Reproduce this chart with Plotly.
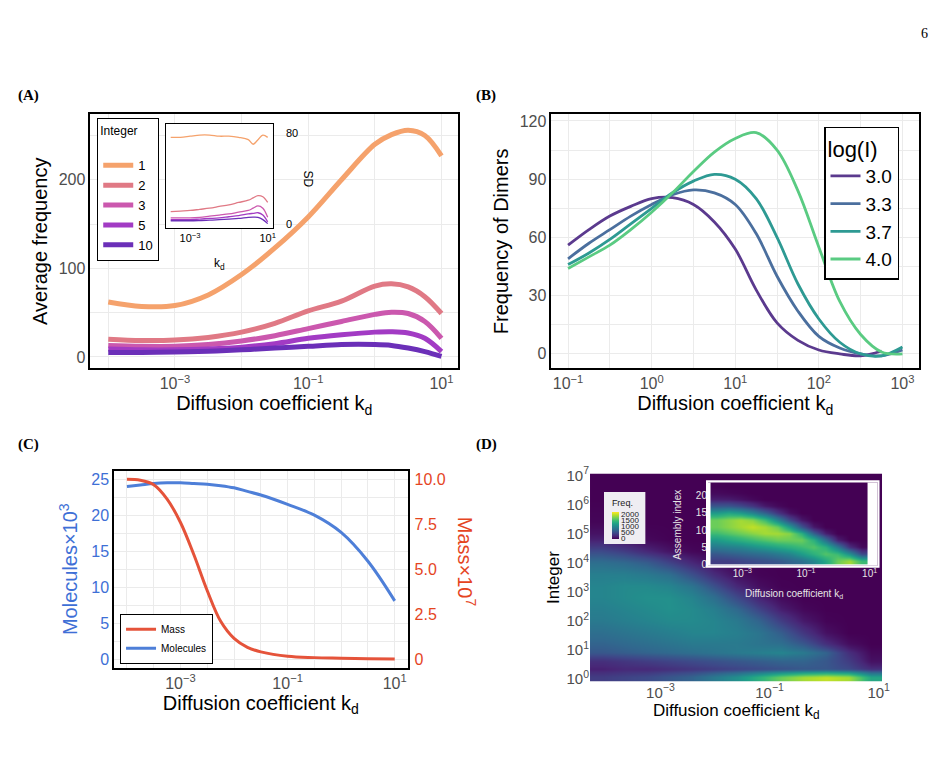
import numpy as np
import plotly.graph_objects as go

W, H = 941, 765

# ---------- panel A: average frequency per integer ----------
A_LOGKD = [-4, -3.5, -3, -2.5, -2, -1.5, -1, -0.5, 0, 0.25, 0.5, 0.75, 1]
A_INT1 = [62, 57, 58, 70, 93, 123, 158, 200, 240, 251, 256, 250, 227]
A_INT2 = [20, 18.5, 19, 22, 28, 38, 52, 63, 80, 82.5, 79, 68, 49]
A_INT3 = [13, 12, 12, 14, 18, 24, 32, 40, 48, 50.5, 49, 40, 21]
A_INT5 = [9, 8, 8, 9, 11, 15, 21, 25, 28, 28.5, 27, 21, 6]
A_INT10 = [5, 5, 5.5, 6.5, 8, 10, 12, 14, 14, 13, 10, 6, 0.5]

# inset: SD
SD_INT1 = [76, 76, 77, 78, 78, 77, 77, 76, 74, 70, 74, 78, 76]
SD_INT2 = [11, 11.5, 12, 13, 14, 15.5, 17, 19, 21, 23, 25, 24, 19]
SD_INT3 = [5.5, 5.5, 5.5, 6, 7, 8, 9, 10.5, 12, 14, 16, 14, 6]
SD_INT5 = [4, 4, 4, 4.5, 5, 5.5, 6.5, 7.5, 9, 9.5, 10, 8, 2]
SD_INT10 = [3, 3, 3, 3.2, 3.5, 4, 4.5, 5, 6, 6.2, 6, 4, 0.5]

INTEGERS = ["1", "2", "3", "5", "10"]
INT_COLORS = ["#F5A26C", "#E07985", "#CB58AE", "#A23BC4", "#6B2FB8"]

# ---------- panel B: frequency of dimers ----------
B_LOGKD = [-1, -0.75, -0.5, -0.25, 0, 0.25, 0.5, 0.75, 1, 1.25, 1.5, 1.75, 2, 2.25, 2.5, 2.75, 3]
B_30 = [56, 64, 71, 76, 80, 80.5, 77, 68, 54, 33, 16, 7, 2, 0, -1, 1.5, None]
B_33 = [49, 57, 64, 71, 77, 82, 84.5, 83, 77, 62, 40, 22, 9, 3, 0, -1, 2]
B_37 = [46, 52, 59, 67, 75, 83, 89, 92.5, 90, 80, 60, 36, 18, 6, 0, -1, 3.5]
B_40 = [44, 50, 56, 64, 73, 83, 94, 104, 111, 114, 105, 84, 55, 27, 10, 1, 0]
LOGI = ["3.0", "3.3", "3.7", "4.0"]
LOGI_COLORS = ["#5B3A8E", "#4B6F9E", "#2E9A93", "#5ACB82"]

# ---------- panel C: molecules and mass ----------
C_LOGKD = [-4, -3.75, -3.5, -3.25, -3, -2.75, -2.5, -2.25, -2, -1.75, -1.5, -1, -0.5, 0, 0.5, 1]
C_MOLECULES = [24.0, 24.2, 24.4, 24.5, 24.5, 24.4, 24.3, 24.1, 23.8, 23.3, 22.8, 21.5, 20.0, 17.6, 13.6, 8.1]
C_MASS = [10, 9.95, 9.7, 8.9, 7.6, 5.8, 3.8, 2.1, 1.15, 0.65, 0.4, 0.15, 0.08, 0.05, 0.02, 0]

# ---------- panel D: heatmaps ----------
D_X_EDGES = np.linspace(-4.29, 1.07, 14)
D_Y_EDGES = [-0.1, 0.2, 0.45, 0.75, 1.05, 1.4, 1.8, 2.2, 2.6, 3.0, 3.4, 3.8, 4.2, 4.6, 5.0, 5.8, 6.6, 7.07]
D_FREQ = [
    [400, 450, 500, 600, 700, 900, 1100, 1400, 1700, 1900, 2000, 1900, 1300],
    [200, 250, 250, 300, 350, 400, 450, 500, 550, 600, 600, 500, 300],
    [300, 350, 400, 450, 500, 550, 600, 650, 700, 700, 600, 400, 100],
    [600, 650, 700, 750, 800, 850, 900, 950, 1000, 900, 700, 300, 50],
    [700, 750, 800, 850, 900, 900, 900, 850, 800, 600, 300, 80, 0],
    [800, 850, 900, 950, 1000, 1000, 950, 850, 650, 350, 100, 0, 0],
    [900, 950, 1000, 1050, 1050, 1000, 900, 700, 400, 150, 20, 0, 0],
    [950, 1000, 1050, 1100, 1050, 950, 750, 450, 180, 40, 0, 0, 0],
    [1000, 1050, 1100, 1100, 1000, 800, 500, 220, 60, 0, 0, 0, 0],
    [1000, 1050, 1050, 1000, 850, 550, 250, 80, 10, 0, 0, 0, 0],
    [950, 950, 900, 800, 550, 280, 90, 20, 0, 0, 0, 0, 0],
    [800, 750, 650, 450, 250, 80, 20, 0, 0, 0, 0, 0, 0],
    [500, 400, 250, 120, 40, 0, 0, 0, 0, 0, 0, 0, 0],
    [200, 120, 50, 10, 0, 0, 0, 0, 0, 0, 0, 0, 0],
    [30, 10, 0, 0, 0, 0, 0, 0, 0, 0, 0, 0, 0],
    [0, 0, 0, 0, 0, 0, 0, 0, 0, 0, 0, 0, 0],
    [0, 0, 0, 0, 0, 0, 0, 0, 0, 0, 0, 0, 0],
]
AI_X_EDGES = np.linspace(-4.0, 0.95, 14)
AI_Y_EDGES = list(range(0, 25, 2))
AI_FREQ = [
    [400, 400, 450, 500, 550, 600, 700, 800, 1000, 1300, 1700, 1900, 1500],
    [600, 650, 700, 750, 800, 900, 1000, 1200, 1400, 1600, 1500, 1100, 500],
    [900, 950, 1000, 1100, 1200, 1300, 1400, 1500, 1600, 1400, 900, 300, 50],
    [1200, 1300, 1400, 1500, 1600, 1700, 1700, 1700, 1400, 800, 200, 0, 0],
    [1500, 1600, 1700, 1800, 1900, 1900, 1800, 1400, 700, 200, 0, 0, 0],
    [1700, 1800, 1900, 2000, 1900, 1700, 1200, 600, 150, 0, 0, 0, 0],
    [1700, 1800, 1900, 1800, 1500, 1000, 500, 150, 0, 0, 0, 0, 0],
    [1200, 1300, 1200, 1000, 700, 350, 100, 0, 0, 0, 0, 0, 0],
    [600, 600, 500, 350, 150, 50, 0, 0, 0, 0, 0, 0, 0],
    [200, 180, 120, 50, 0, 0, 0, 0, 0, 0, 0, 0, 0],
    [60, 40, 20, 0, 0, 0, 0, 0, 0, 0, 0, 0, 0],
    [10, 0, 0, 0, 0, 0, 0, 0, 0, 0, 0, 0, 0],
]

FONT = "Liberation Sans"
KD_TITLE = "Diffusion coefficient k<sub>d</sub>"


def px_x(a, b):
    return [a / W, b / W]


def px_y(top, bottom):
    return [1 - bottom / H, 1 - top / H]


def decade_text(v, show):
    if not show:
        return ""
    s = str(v).replace("-", "\u2212")
    return "10<sup>%s</sup>" % s


def log_ticks(lo, hi, shown):
    vals = list(range(lo, hi + 1))
    return vals, [decade_text(v, v in shown) for v in vals]


fig = go.Figure()

# A main
for name, col, ys in zip(INTEGERS, INT_COLORS, [A_INT1, A_INT2, A_INT3, A_INT5, A_INT10]):
    fig.add_trace(go.Scatter(x=A_LOGKD, y=ys, mode="lines", line=dict(color=col, width=5, shape="spline"),
                             name=name, legend="legend", xaxis="x", yaxis="y"))
# A inset
for name, col, ys in zip(INTEGERS, INT_COLORS, [SD_INT1, SD_INT2, SD_INT3, SD_INT5, SD_INT10]):
    fig.add_trace(go.Scatter(x=A_LOGKD, y=ys, mode="lines", line=dict(color=col, width=1.3, shape="spline"),
                             showlegend=False, xaxis="x2", yaxis="y2"))
# B
for name, col, ys in zip(LOGI, LOGI_COLORS, [B_30, B_33, B_37, B_40]):
    fig.add_trace(go.Scatter(x=B_LOGKD, y=ys, mode="lines", line=dict(color=col, width=2.8, shape="spline"),
                             name=name, legend="legend2", xaxis="x3", yaxis="y3"))
# C
fig.add_trace(go.Scatter(x=C_LOGKD, y=C_MASS, mode="lines", line=dict(color="#E5533A", width=3, shape="spline"),
                         name="Mass", legend="legend3", xaxis="x4", yaxis="y5"))
fig.add_trace(go.Scatter(x=C_LOGKD, y=C_MOLECULES, mode="lines", line=dict(color="#4E7FD8", width=3, shape="spline"),
                         name="Molecules", legend="legend3", xaxis="x4", yaxis="y4"))
# D
fig.add_trace(go.Heatmap(x=D_X_EDGES, y=D_Y_EDGES, z=D_FREQ, colorscale="Viridis", zmin=0, zmax=2200,
                         zsmooth="best", xaxis="x6", yaxis="y6",
                         colorbar=dict(title=dict(text="Freq.", font=dict(size=9, color="#222"), side="top"),
                                       x=601 / W, xanchor="left", y=1 - 510 / H, yanchor="middle",
                                       lenmode="pixels", len=52, thickness=7,
                                       tickvals=[0, 500, 1000, 1500, 2000], ticks="",
                                       tickfont=dict(size=8, color="#222"),
                                       bgcolor="#EFEDF2", xpad=8, ypad=5, outlinewidth=0)))
fig.add_trace(go.Heatmap(x=AI_X_EDGES, y=AI_Y_EDGES, z=AI_FREQ, colorscale="Viridis", zmin=0, zmax=2200,
                         zsmooth="best", showscale=False, xaxis="x7", yaxis="y7"))

gray = "#4D4D4D"
grid = "#EBEBEB"
box = dict(showline=True, linecolor="black", linewidth=1.5, mirror=True, zeroline=False,
           gridcolor=grid, ticks="", showgrid=True)

xa_v, xa_t = log_ticks(-4, 1, [-3, -1, 1])
xb_v, xb_t = log_ticks(-1, 3, [-1, 0, 1, 2, 3])

fig.update_layout(
    width=W, height=H, margin=dict(l=0, r=0, t=0, b=0),
    paper_bgcolor="white", plot_bgcolor="white",
    font=dict(family=FONT, color="black"),
    xaxis=dict(domain=px_x(83, 454), range=[-4.27, 1.25], tickvals=xa_v, ticktext=xa_t,
               tickfont=dict(size=16, color=gray), title=dict(text=KD_TITLE, font=dict(size=20), standoff=4), **box),
    yaxis=dict(domain=px_y(99, 358), range=[-13, 274], tickvals=[0, 100, 200],
               tickfont=dict(size=16, color=gray), minor=dict(dtick=50, showgrid=True, gridcolor=grid),
               title=dict(text="Average frequency", font=dict(size=20), standoff=6), **box),
    xaxis2=dict(domain=px_x(159, 267), range=[-4.26, 1.26], anchor="y2", tickvals=xa_v,
                ticktext=["", "10<sup>\u22123</sup>", "", "", "", "10<sup>1</sup>"],
                tickfont=dict(size=11, color="black"), showline=True, linecolor="black", linewidth=1,
                mirror=True, gridcolor="white", zeroline=False),
    yaxis2=dict(domain=px_y(109, 215), range=[-3.4, 87.7], anchor="x2", side="right",
                tickvals=[0, 80], tickfont=dict(size=11, color="black"), ticklabelstandoff=10,
                minor=dict(dtick=20, showgrid=True, gridcolor="white"),
                showline=True, linecolor="black", linewidth=1, mirror=True, gridcolor="white", zeroline=False),
    xaxis3=dict(domain=px_x(548, 919), range=[-1.2, 3.2], anchor="y3", tickvals=xb_v, ticktext=xb_t,
                minor=dict(dtick=0.5, showgrid=True, gridcolor=grid),
                tickfont=dict(size=16, color=gray), title=dict(text=KD_TITLE, font=dict(size=20), standoff=4), **box),
    yaxis3=dict(domain=px_y(99, 358), range=[-7.5, 123.5], anchor="x3", tickvals=[0, 30, 60, 90, 120],
                minor=dict(dtick=15, showgrid=True, gridcolor=grid),
                tickfont=dict(size=16, color=gray),
                title=dict(text="Frequency of Dimers", font=dict(size=20), standoff=6), **box),
    xaxis4=dict(domain=px_x(107, 403), range=[-4.24, 1.24], anchor="y4", tickvals=xa_v, ticktext=xa_t,
                minor=dict(dtick=0.5, showgrid=True, gridcolor=grid),
                tickfont=dict(size=16, color=gray), title=dict(text=KD_TITLE, font=dict(size=20), standoff=4), **box),
    yaxis4=dict(domain=px_y(462, 663), range=[-1.2, 26.2], anchor="x4", tickvals=[0, 5, 10, 15, 20, 25],
                minor=dict(dtick=2.5, showgrid=True, gridcolor=grid),
                tickfont=dict(size=16, color="#3E6FD6"),
                title=dict(text="Molecules\u00d710<sup>3</sup>", font=dict(size=20, color="#3E6FD6"), standoff=8),
                **box),
    yaxis5=dict(overlaying="y4", anchor="x4", side="right", range=[-0.49, 10.49],
                tickvals=[0, 2.5, 5, 7.5, 10], ticktext=["0", "2.5", "5.0", "7.5", "10.0"],
                tickfont=dict(size=16, color="#E5451F"), showgrid=False, zeroline=False, ticklabelstandoff=6),
    xaxis6=dict(domain=px_x(587, 882), range=[-4.29, 1.07], anchor="y6", tickvals=xa_v, ticktext=xa_t,
                showgrid=False, zeroline=False, ticks="", tickfont=dict(size=15, color=gray),
                title=dict(text=KD_TITLE, font=dict(size=17), standoff=2)),
    yaxis6=dict(domain=px_y(465, 677), range=[-0.1, 7.07], anchor="x6", tickvals=list(range(8)),
                ticktext=[decade_text(v, True) for v in range(8)], showgrid=False, zeroline=False, ticks="",
                tickfont=dict(size=15, color=gray), title=dict(text="Integer", font=dict(size=17), standoff=2)),
    xaxis7=dict(domain=px_x(706, 877), range=[-4.08, 1.25], anchor="y7", tickvals=[-3, -1, 1],
                ticktext=[decade_text(v, True) for v in [-3, -1, 1]], showgrid=False, zeroline=False,
                tickfont=dict(size=10, color="#E6E6E6")),
    yaxis7=dict(domain=px_y(474, 559), range=[-0.5, 24], anchor="x7", tickvals=[0, 5, 10, 15, 20],
                showgrid=False, zeroline=False, tickfont=dict(size=10, color="#E6E6E6")),
    legend=dict(x=90 / W, y=1 - 103 / H, xanchor="left", yanchor="top", bordercolor="black", borderwidth=1,
                bgcolor="white", title=dict(text="Integer<br>", font=dict(size=12)), font=dict(size=13),
                tracegroupgap=0, itemwidth=30),
    legend2=dict(x=823 / W, y=1 - 112 / H, xanchor="left", yanchor="top", bordercolor="black", borderwidth=1.5,
                 bgcolor="white", title=dict(text="log(I)", font=dict(size=22)), font=dict(size=19),
                 itemwidth=30),
    legend3=dict(x=113 / W, y=1 - 608 / H, xanchor="left", yanchor="top", bordercolor="black", borderwidth=1,
                 bgcolor="white", font=dict(size=10), itemwidth=30),
)

# inset backgrounds and border
fig.add_shape(type="rect", xref="x2 domain", yref="y2 domain", x0=0, x1=1, y0=0, y1=1,
              fillcolor="#EBEBEB", line=dict(width=0), layer="below")
fig.add_shape(type="rect", xref="x7 domain", yref="y7 domain", x0=0, x1=1, y0=0, y1=1,
              fillcolor="#440154", line=dict(width=0), layer="below")
fig.add_shape(type="rect", xref="paper", yref="paper", x0=705 / W, x1=878 / W, y0=1 - 560 / H, y1=1 - 473 / H,
              line=dict(color="white", width=2))


def note(text, x, y, size, angle=0, color="black", family=FONT, xanchor="center"):
    fig.add_annotation(text=text, x=x / W, y=1 - y / H, xref="paper", yref="paper",
                       xanchor=xanchor, yanchor="middle", textangle=angle, showarrow=False,
                       font=dict(family=family, size=size, color=color))


for txt, x, y in [("(A)", 8, 80), ("(B)", 470, 80), ("(C)", 8, 435), ("(D)", 470, 435)]:
    note("<b>%s</b>" % txt, x, y, 15, family="Liberation Serif", xanchor="left")
note("6", 930, 17, 14, family="Liberation Serif", xanchor="right")
note("SD", 303, 165, 12, angle=90)
note("k<sub>d</sub>", 213, 252, 12)
note("Mass\u00d710<sup>7</sup>", 462, 555, 20, angle=90, color="#E5451F")
note("Assembly index", 675, 517, 10, angle=-90, color="#E6E6E6")
note(KD_TITLE, 793, 588, 10, color="#E6E6E6")

fig.write_html("out.html")
